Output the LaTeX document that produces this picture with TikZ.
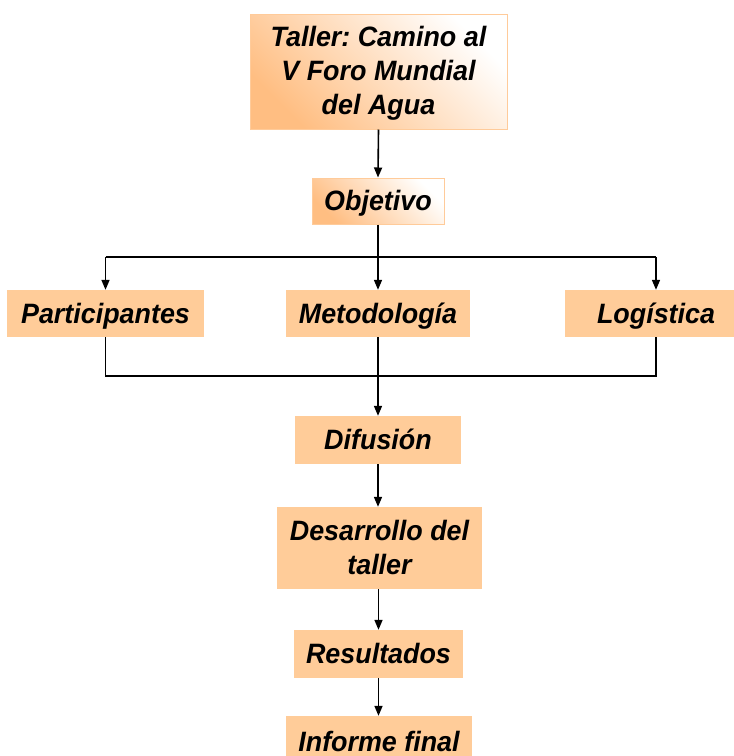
\documentclass[tikz,border=0pt]{standalone}
\usepackage{fontspec}
\setmainfont{Liberation Sans}
\newfontfamily\boxfont[FakeStretch=0.96]{Liberation Sans}
\usetikzlibrary{arrows.meta}
\frenchspacing
\definecolor{boxfill}{HTML}{FFCC99}
\definecolor{gradorange}{HTML}{FFBE82}
\definecolor{gradborder}{HTML}{FFCB9A}
\tikzset{
  txt/.style={font=\boxfont\fontsize{28}{34}\selectfont\bfseries\itshape, text=black, align=center, inner sep=0pt, text height=21pt, text depth=2pt},
  solidbox/.style={txt, fill=boxfill, draw=none},
  gradbox/.style={txt, draw=gradborder, line width=1pt, top color=white, bottom color=gradorange, shading angle=-45},
  conn/.style={line width=1.6pt, black},
  arr/.style={conn, -{Triangle[length=10pt,width=8pt]}}
}
\begin{document}
\begin{tikzpicture}[x=1pt,y=-1pt]
\useasboundingbox (0,0) rectangle (734,756);
\clip (0,0) rectangle (734,756);
\node[gradbox, minimum width=257pt, minimum height=115pt, text height=88pt] (title) at (378.5,71.5) {Taller: Camino al\\V Foro Mundial\\del Agua};
\node[gradbox, minimum width=132pt, minimum height=46pt] (obj) at (378,201) {Objetivo};
\node[solidbox, minimum width=197pt, minimum height=47pt] (part) at (105.5,313.5) {Participantes};
\node[solidbox, minimum width=184pt, minimum height=47pt] (met) at (378,313.5) {Metodología};
\node[solidbox, minimum width=182pt, minimum height=47pt] (log) at (656,313.5) {Logística};
\node[solidbox, minimum width=166pt, minimum height=48pt] (dif) at (378,440) {Difusión};
\node[solidbox, minimum width=205pt, minimum height=82pt, text height=55pt] (des) at (379.5,548) {Desarrollo del\\taller};
\node[solidbox, minimum width=169pt, minimum height=48pt] (res) at (378.5,654) {Resultados};
\node[solidbox, minimum width=186pt, minimum height=52pt] (inf) at (379,742) {Informe final};
\coordinate (split) at (378,257);
\coordinate (join) at (378,376);
\draw[arr] (title.south) -- (obj.north);
\draw[conn] (obj.south) -- (split);
\draw[conn] (part.north |- split) -- (log.north |- split);
\draw[arr] (part.north |- split) -- (part.north);
\draw[arr] (split) -- (met.north);
\draw[arr] (log.north |- split) -- (log.north);
\draw[conn] (part.south) -- (part.south |- join) -- (log.south |- join) -- (log.south);
\draw[conn] (met.south) -- (join);
\draw[arr] (join) -- (dif.north);
\draw[arr] (dif.south) -- (dif.south |- des.north);
\draw[arr] (des.south -| res.north) -- (res.north);
\draw[arr] (res.south) -- (res.south |- inf.north);
\end{tikzpicture}
\end{document}
